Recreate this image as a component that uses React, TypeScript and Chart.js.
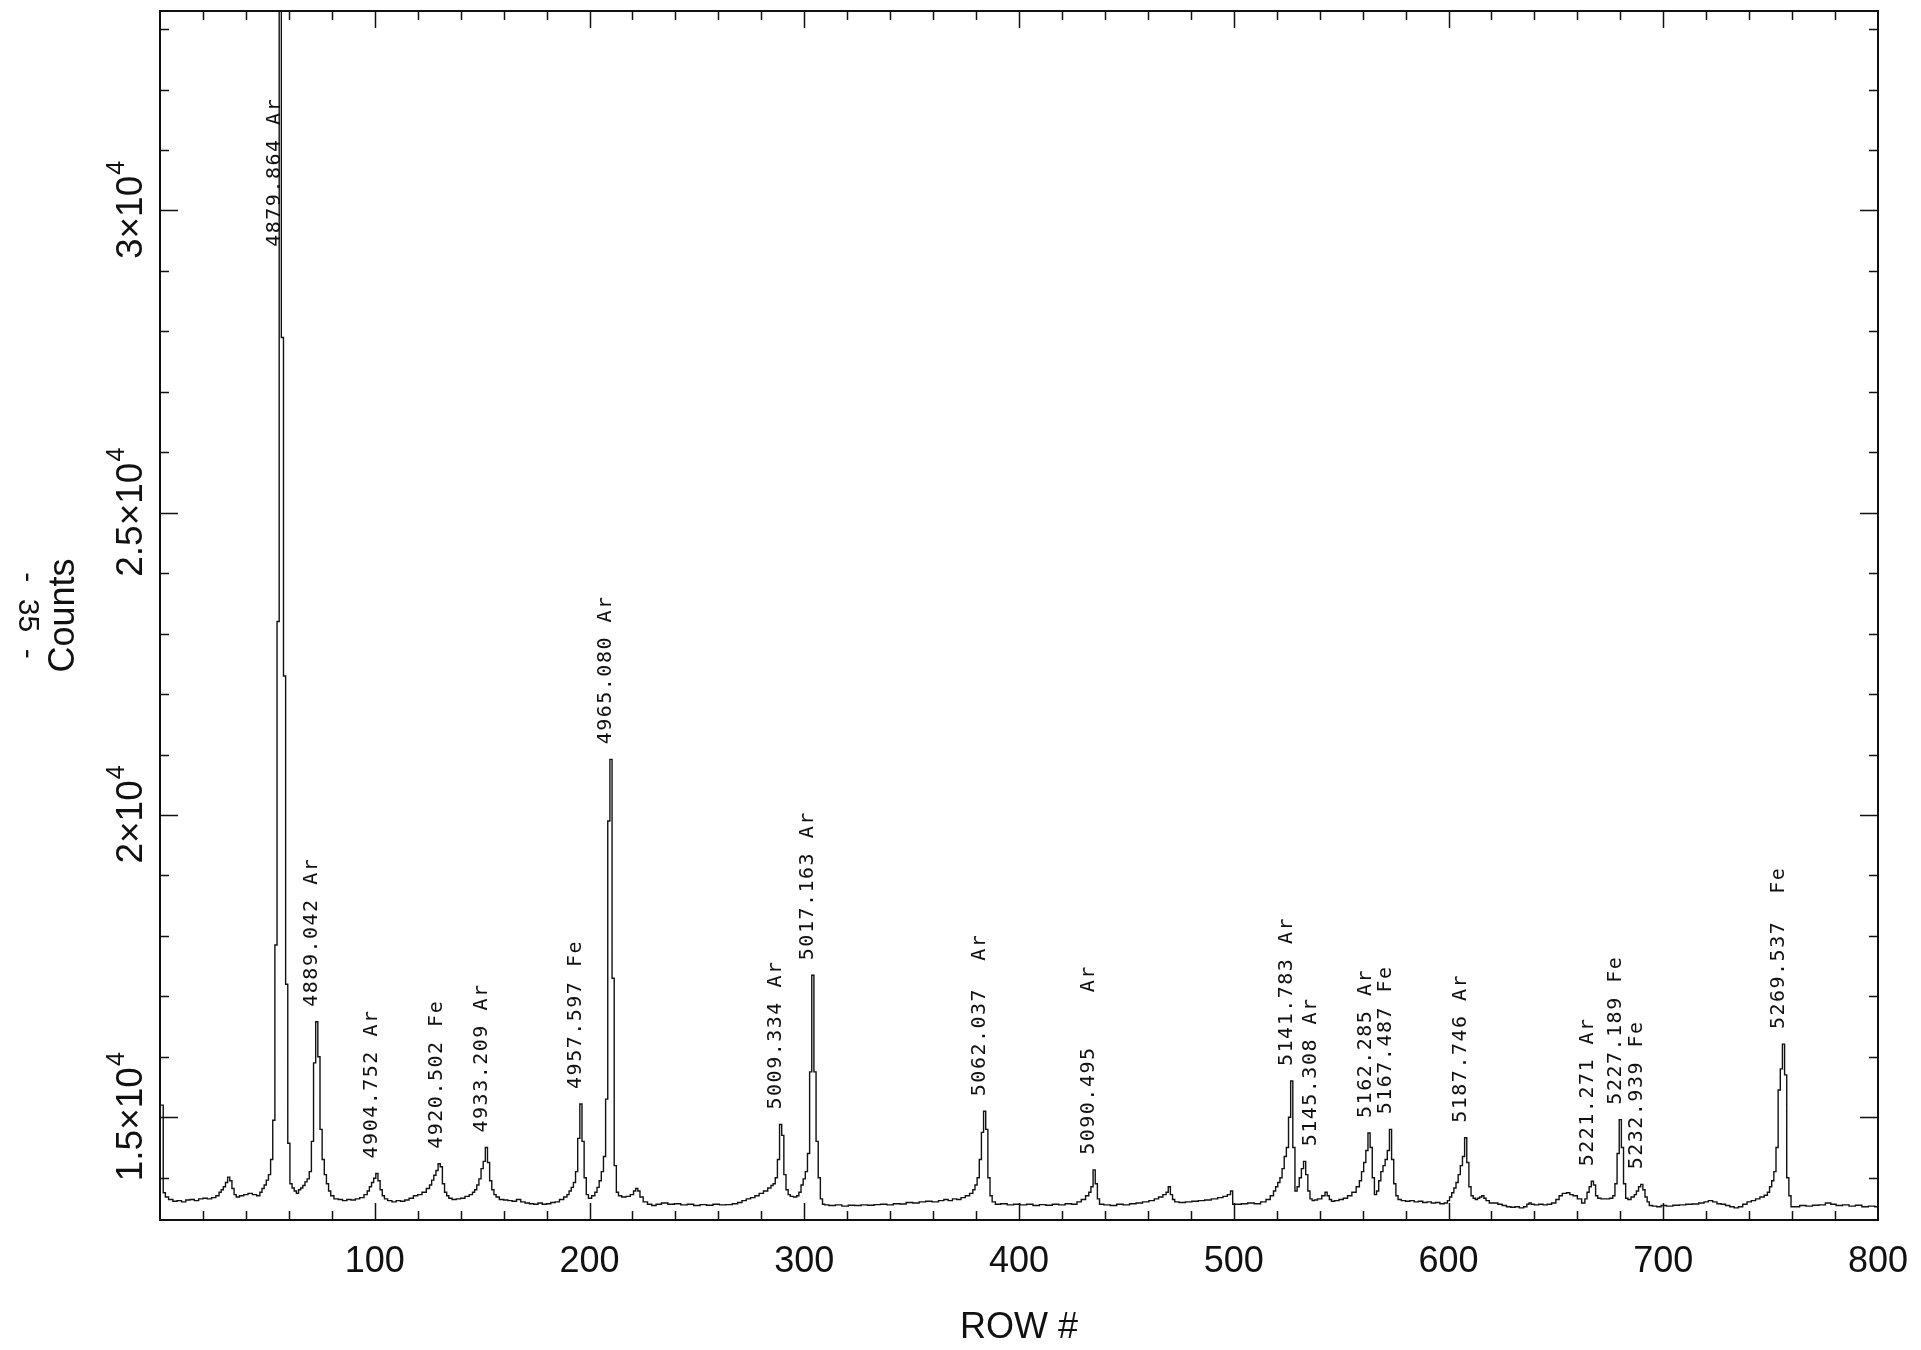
import React, { useEffect, useRef } from 'react';
import { Chart, registerables } from 'chart.js';

Chart.register(...registerables);

// Extracted arc-lamp spectrum: [row, counts]
const SPECTRUM: [number, number][] = [
  [0, 15200], [1, 15200], [2, 13750], [3, 13680], [5, 13640], [7, 13610], [9, 13620], [11, 13600], [13, 13630], [15, 13640],
  [17, 13620], [19, 13650], [21, 13660], [23, 13650], [25, 13670], [27, 13700], [28, 13760], [29, 13800], [30, 13850], [31, 13920],
  [32, 14010], [33, 13950], [34, 13820], [35, 13720], [36, 13680], [38, 13700], [40, 13720], [42, 13740], [44, 13720], [46, 13700],
  [47, 13760], [48, 13820], [49, 13880], [50, 13960], [51, 14050], [52, 14300], [53, 14950], [54, 17850], [55, 23200], [56, 34000],
  [57, 27900], [58, 22300], [59, 17200], [60, 14570], [61, 13900], [62, 13830], [63, 13780], [64, 13740], [65, 13800], [66, 13830],
  [67, 13870], [68, 13930], [69, 13980], [70, 14100], [71, 14600], [72, 15900], [73, 16580], [74, 16000], [75, 14800], [76, 14300],
  [77, 14050], [78, 13900], [79, 13780], [80, 13700], [82, 13650], [84, 13640], [86, 13620], [88, 13640], [90, 13630], [92, 13650],
  [94, 13670], [96, 13720], [97, 13780], [98, 13850], [99, 13920], [100, 13990], [101, 14070], [102, 13950], [103, 13800], [104, 13700],
  [105, 13650], [107, 13620], [109, 13600], [111, 13620], [113, 13610], [115, 13630], [117, 13660], [119, 13700], [121, 13720], [123, 13760],
  [125, 13820], [126, 13880], [127, 13960], [128, 14040], [129, 14120], [130, 14230], [131, 14180], [132, 13900], [133, 13760], [134, 13700],
  [135, 13660], [137, 13640], [139, 13650], [141, 13660], [143, 13690], [145, 13720], [146, 13760], [147, 13800], [148, 13880], [149, 13980],
  [150, 14150], [151, 14270], [152, 14500], [153, 14250], [154, 13950], [155, 13800], [156, 13720], [157, 13680], [159, 13640], [161, 13630],
  [163, 13620], [165, 13610], [167, 13640], [169, 13600], [171, 13580], [173, 13570], [175, 13560], [177, 13580], [179, 13560], [181, 13570],
  [183, 13590], [185, 13600], [187, 13640], [189, 13680], [190, 13720], [191, 13780], [192, 13840], [193, 13920], [194, 14100], [195, 14650],
  [196, 15220], [197, 14600], [198, 14000], [199, 13720], [200, 13660], [202, 13700], [203, 13760], [204, 13840], [205, 13950], [206, 14100],
  [207, 14350], [208, 15300], [209, 19900], [210, 20920], [211, 17300], [212, 14200], [213, 13760], [214, 13700], [216, 13680], [218, 13690],
  [220, 13720], [221, 13780], [222, 13820], [223, 13780], [224, 13680], [226, 13600], [228, 13560], [230, 13540], [232, 13560], [235, 13580],
  [238, 13560], [241, 13570], [244, 13550], [247, 13560], [250, 13540], [253, 13555], [256, 13545], [259, 13560], [262, 13550], [265, 13555],
  [268, 13570], [270, 13590], [272, 13620], [274, 13650], [276, 13670], [278, 13700], [280, 13740], [282, 13780], [284, 13830], [285, 13870],
  [286, 13900], [287, 14000], [288, 14300], [289, 14880], [290, 14700], [291, 14050], [292, 13800], [293, 13720], [294, 13690], [296, 13680],
  [297, 13700], [298, 13760], [299, 13880], [300, 13980], [301, 14100], [302, 14400], [303, 15750], [304, 17350], [305, 15750], [306, 14600],
  [307, 14000], [308, 13650], [309, 13560], [310, 13550], [313, 13540], [316, 13550], [319, 13530], [322, 13545], [325, 13540], [328, 13550],
  [331, 13545], [334, 13555], [337, 13560], [340, 13550], [343, 13570], [346, 13565], [349, 13590], [352, 13580], [355, 13600], [358, 13610],
  [361, 13600], [364, 13620], [366, 13640], [368, 13620], [370, 13650], [372, 13640], [374, 13670], [376, 13700], [378, 13740], [379, 13800],
  [380, 13880], [381, 14000], [382, 14300], [383, 14750], [384, 15100], [385, 14800], [386, 14000], [387, 13700], [388, 13600], [390, 13560],
  [393, 13570], [396, 13550], [399, 13560], [402, 13550], [405, 13560], [408, 13540], [411, 13555], [414, 13545], [417, 13560], [420, 13550],
  [423, 13570], [426, 13560], [428, 13600], [430, 13640], [432, 13700], [433, 13760], [434, 13850], [435, 14130], [436, 13900], [437, 13650],
  [438, 13560], [441, 13550], [444, 13540], [447, 13560], [450, 13550], [453, 13570], [456, 13580], [459, 13600], [462, 13620], [464, 13650],
  [466, 13680], [468, 13720], [469, 13760], [470, 13850], [471, 13720], [472, 13640], [473, 13600], [476, 13590], [479, 13600], [482, 13610],
  [485, 13620], [488, 13630], [491, 13650], [494, 13670], [496, 13690], [498, 13720], [499, 13780], [500, 13560], [502, 13560], [505, 13570],
  [508, 13580], [511, 13570], [514, 13600], [516, 13640], [518, 13700], [519, 13780], [520, 13850], [521, 13920], [522, 14000], [523, 14150],
  [524, 14350], [525, 14500], [526, 15000], [527, 15600], [528, 14500], [529, 13780], [530, 13850], [531, 14000], [532, 14150], [533, 14270],
  [534, 14050], [535, 13780], [536, 13650], [537, 13620], [538, 13630], [540, 13650], [542, 13700], [543, 13760], [544, 13700], [545, 13640],
  [546, 13610], [548, 13620], [550, 13640], [552, 13660], [554, 13700], [556, 13760], [558, 13850], [559, 13950], [560, 14100], [561, 14250],
  [562, 14450], [563, 14740], [564, 14500], [565, 14000], [566, 13720], [567, 13780], [568, 13950], [569, 14100], [570, 14200], [571, 14300],
  [572, 14450], [573, 14800], [574, 14300], [575, 13900], [576, 13700], [577, 13640], [579, 13620], [581, 13610], [583, 13620], [585, 13600],
  [587, 13610], [589, 13590], [591, 13600], [593, 13580], [595, 13590], [597, 13570], [599, 13580], [600, 13620], [601, 13680], [602, 13750],
  [603, 13830], [604, 13920], [605, 14050], [606, 14200], [607, 14350], [608, 14660], [609, 14250], [610, 13850], [611, 13700], [612, 13660],
  [613, 13640], [614, 13660], [615, 13680], [616, 13700], [617, 13660], [618, 13620], [620, 13580], [622, 13580], [624, 13560], [626, 13540],
  [628, 13520], [630, 13510], [632, 13520], [634, 13500], [636, 13520], [637, 13560], [638, 13580], [639, 13560], [641, 13550], [643, 13560],
  [645, 13550], [647, 13560], [649, 13580], [651, 13640], [652, 13700], [654, 13740], [656, 13750], [657, 13720], [659, 13700], [661, 13650],
  [663, 13580], [664, 13650], [665, 13760], [666, 13850], [667, 13940], [668, 13880], [669, 13700], [670, 13660], [672, 13650], [674, 13650],
  [676, 13660], [677, 13700], [678, 13900], [679, 14400], [680, 14960], [681, 14500], [682, 13900], [683, 13660], [684, 13640], [686, 13680],
  [687, 13720], [688, 13780], [689, 13850], [690, 13890], [691, 13800], [692, 13680], [693, 13600], [694, 13540], [696, 13530], [698, 13520],
  [700, 13540], [703, 13530], [706, 13545], [709, 13550], [712, 13560], [715, 13565], [718, 13580], [720, 13600], [722, 13620], [724, 13600],
  [726, 13570], [728, 13560], [730, 13540], [732, 13520], [734, 13500], [736, 13520], [738, 13560], [740, 13600], [742, 13620], [744, 13650],
  [746, 13680], [748, 13710], [749, 13760], [750, 13850], [751, 13950], [752, 14100], [753, 14500], [754, 15450], [755, 15800], [756, 16210],
  [757, 15700], [758, 14000], [759, 13700], [760, 13520], [762, 13520], [765, 13540], [768, 13530], [771, 13545], [774, 13550], [777, 13580],
  [779, 13560], [782, 13540], [785, 13550], [788, 13530], [791, 13545], [794, 13520], [797, 13530], [800, 13520],
];

// Identified comparison lines: row, wavelength (Å), species
const LINE_ROWS = [56, 73, 101, 131, 152, 196, 210, 289, 304, 384, 435, 527, 538, 564, 573, 608, 667, 680, 690, 756];
const LINE_WAVELENGTHS = [
  '4879.864', '4889.042', '4904.752', '4920.502', '4933.209', '4957.597', '4965.080', '5009.334', '5017.163', '5062.037',
  '5090.495', '5141.783', '5145.308', '5162.285', '5167.487', '5187.746', '5221.271', '5227.189', '5232.939', '5269.537',
];
const LINE_SPECIES = ['Ar', 'Ar', 'Ar', 'Fe', 'Ar', 'Fe', 'Ar', 'Ar', 'Ar', 'Ar', 'Ar', 'Ar', 'Ar', 'Ar', 'Fe', 'Ar', 'Ar', 'Fe', 'Fe', 'Fe'];
const LINE_GAPS = [1, 1, 1, 1, 1, 1, 1, 1, 1, 2, 4, 1, 1, 1, 1, 1, 1, 1, 1, 2];

// Axis ticks
const X_MIN = 0;
const X_MAX = 800;
const X_TICK_LABELS = [100, 200, 300, 400, 500, 600, 700, 800];
const Y_MIN = 13300;
const Y_MAX = 33300;
const Y_TICK_VALUES = [15000, 20000, 25000, 30000];
const Y_TICK_MANTISSAS = ['1.5', '2', '2.5', '3'];
const Y_TICK_EXPONENT = '4';

const PAGE_NUMBER = '-  35  -';

const AXIS_FONT = "'Liberation Sans', Arimo, Helvetica, Arial, sans-serif";
const HAND_FONT = "'DejaVu Sans Mono', 'Liberation Mono', monospace";

const frameAndNotes = {
  id: 'frameAndNotes',
  afterDatasetsDraw(chart: any) {
    const { ctx, chartArea: a, scales } = chart;
    const x = scales.x;
    const y = scales.y;
    ctx.save();
    ctx.strokeStyle = '#111';
    ctx.fillStyle = '#111';

    // plot frame
    ctx.lineWidth = 2;
    ctx.strokeRect(a.left, a.top, a.right - a.left, a.bottom - a.top);

    // inward tick marks on all four sides
    ctx.lineWidth = 1.5;
    ctx.beginPath();
    for (let v = X_MIN + 20; v < X_MAX; v += 20) {
      const len = v % 100 === 0 ? 17 : 9;
      const px = Math.round(x.getPixelForValue(v)) + 0.5;
      ctx.moveTo(px, a.bottom);
      ctx.lineTo(px, a.bottom - len);
      ctx.moveTo(px, a.top);
      ctx.lineTo(px, a.top + len);
    }
    for (let v = 14000; v < Y_MAX; v += 1000) {
      const len = v % 5000 === 0 ? 18 : 9;
      const py = Math.round(y.getPixelForValue(v)) + 0.5;
      ctx.moveTo(a.left, py);
      ctx.lineTo(a.left + len, py);
      ctx.moveTo(a.right, py);
      ctx.lineTo(a.right - len, py);
    }
    ctx.stroke();

    // y tick labels, rotated, with a raised exponent
    Y_TICK_VALUES.forEach((v, i) => {
      const py = y.getPixelForValue(v);
      const main = Y_TICK_MANTISSAS[i] + '\u00d710';
      ctx.save();
      ctx.translate(a.left - 18, py);
      ctx.rotate(-Math.PI / 2);
      ctx.font = `37px ${AXIS_FONT}`;
      const w1 = ctx.measureText(main).width;
      ctx.font = `25px ${AXIS_FONT}`;
      const w2 = ctx.measureText(Y_TICK_EXPONENT).width;
      const start = -(w1 + w2) / 2;
      ctx.textBaseline = 'alphabetic';
      ctx.textAlign = 'left';
      ctx.font = `37px ${AXIS_FONT}`;
      ctx.fillText(main, start, 0);
      ctx.font = `25px ${AXIS_FONT}`;
      ctx.fillText(Y_TICK_EXPONENT, start + w1 + 1, -18);
      ctx.restore();
    });

    // line identifications written above each peak
    ctx.font = `20px ${HAND_FONT}`;
    (ctx as any).letterSpacing = '1.5px';
    ctx.textBaseline = 'middle';
    ctx.textAlign = 'left';
    LINE_ROWS.forEach((row, i) => {
      let peak = -Infinity;
      SPECTRUM.forEach(([r, c]) => {
        if (Math.abs(r - row) <= 5 && c > peak) peak = c;
      });
      const clipped = peak > Y_MAX;
      const startY = clipped ? y.getPixelForValue(29400) : y.getPixelForValue(peak) - 15;
      const px = x.getPixelForValue(row) - 5;
      const text = LINE_WAVELENGTHS[i] + ' '.repeat(LINE_GAPS[i]) + LINE_SPECIES[i];
      ctx.save();
      ctx.translate(px, startY);
      ctx.rotate(-Math.PI / 2);
      ctx.fillText(text, 0, 0);
      ctx.restore();
    });
    (ctx as any).letterSpacing = '0px';

    // page number in the margin
    ctx.save();
    ctx.font = `30px ${AXIS_FONT}`;
    ctx.textAlign = 'center';
    ctx.textBaseline = 'middle';
    ctx.translate(27, (a.top + a.bottom) / 2);
    ctx.rotate(Math.PI / 2);
    ctx.fillText(PAGE_NUMBER, 0, 0);
    ctx.restore();

    ctx.restore();
  },
};

export default function App() {
  const canvasRef = useRef<HTMLCanvasElement>(null);

  useEffect(() => {
    document.body.style.margin = '0';
    document.body.style.background = '#fff';
    const canvas = canvasRef.current;
    if (!canvas) return;

    const chart = new Chart(canvas, {
      type: 'line',
      data: {
        datasets: [
          {
            data: SPECTRUM.map(([row, counts]) => ({ x: row, y: counts })),
            borderColor: '#111',
            borderWidth: 1.4,
            pointRadius: 0,
            stepped: 'middle',
            fill: false,
          },
        ],
      },
      options: {
        animation: false,
        responsive: true,
        maintainAspectRatio: false,
        layout: { padding: { top: 11, right: 43, left: 0, bottom: 0 } },
        plugins: {
          legend: { display: false },
          tooltip: { enabled: false },
        },
        scales: {
          x: {
            type: 'linear',
            min: X_MIN,
            max: X_MAX,
            grid: { display: false },
            border: { display: false },
            afterBuildTicks: (scale: any) => {
              scale.ticks = X_TICK_LABELS.map((v) => ({ value: v }));
            },
            afterFit: (scale: any) => {
              scale.height = 130;
            },
            ticks: {
              color: '#111',
              padding: 12,
              maxRotation: 0,
              autoSkip: false,
              font: { family: AXIS_FONT, size: 36 },
              callback: (v: any) => String(v),
            },
            title: {
              display: true,
              text: 'ROW #',
              color: '#111',
              font: { family: AXIS_FONT, size: 36 },
              padding: { top: 0, bottom: 0 },
            },
          },
          y: {
            type: 'linear',
            min: Y_MIN,
            max: Y_MAX,
            grid: { display: false },
            border: { display: false },
            ticks: { display: false },
            afterBuildTicks: (scale: any) => {
              scale.ticks = Y_TICK_VALUES.map((v) => ({ value: v }));
            },
            afterFit: (scale: any) => {
              scale.width = 160;
            },
            title: {
              display: true,
              text: 'Counts',
              color: '#111',
              font: { family: AXIS_FONT, size: 36 },
              padding: { top: 42, bottom: 0 },
            },
          },
        },
      },
      plugins: [frameAndNotes],
    });

    return () => chart.destroy();
  }, []);

  return (
    <div style={{ position: 'absolute', left: 0, top: 0, width: 1921, height: 1350, background: '#fff' }}>
      <canvas ref={canvasRef} />
    </div>
  );
}
